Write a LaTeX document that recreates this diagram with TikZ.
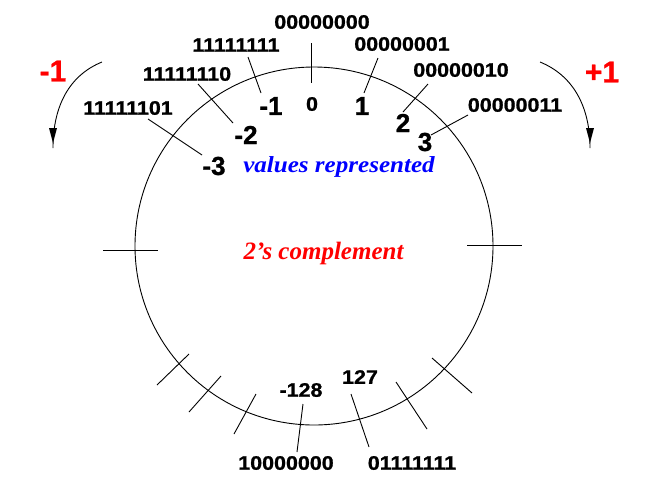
\documentclass[tikz,border=0pt]{standalone}
\usepackage{fontspec}
\newfontfamily\hbw[FakeStretch=1.1,FakeBold=1]{Liberation Sans}
\newfontfamily\hbn[FakeBold=1]{Liberation Sans}
\newfontfamily\tmw[FakeStretch=1.09]{Liberation Serif}
\newfontfamily\tmn{Liberation Serif}
\begin{document}
\begin{tikzpicture}[x=1pt,y=-1pt,
  bin/.style={inner sep=0pt,font=\hbw\bfseries\fontsize{19.5}{19.5}\selectfont},
  big/.style={inner sep=0pt,font=\hbn\bfseries\fontsize{26}{26}\selectfont},
  redbig/.style={inner sep=0pt,text=red,font=\hbn\bfseries\fontsize{30}{30}\selectfont},
  ln/.style={line width=0.9pt},
  tip/.style={fill=black}]
\useasboundingbox (0,0) rectangle (654,491);
\fill[white] (0,0) rectangle (654,491);
% circle
\coordinate (O) at (314,246);
\draw[ln] (O) circle [radius=179];
% ticks
\draw[ln] (311,43) -- (311,83);
\draw[ln] (103,250) -- (158,250);
\draw[ln] (467,245) -- (522,245);
\draw[ln] (157,385) -- (189,354);
\draw[ln] (189,412) -- (221,376);
\draw[ln] (234,434) -- (256,394);
\draw[ln] (432,358) -- (472,393);
\draw[ln] (396,382) -- (427,429);
% binary labels
\node[bin] (b0)   at (322,22) {00000000};
\node[bin] (bm1)  at (236,45) {11111111};
\node[bin] (bp1)  at (402,44) {00000001};
\node[bin] (bm2)  at (187,74) {11111110};
\node[bin] (bp2)  at (461,70) {00000010};
\node[bin] (bm3)  at (128,108) {11111101};
\node[bin] (bp3)  at (515,105) {00000011};
\node[bin] (bmin) at (286,463) {10000000};
\node[bin] (bmax) at (412,463) {01111111};
% values
\node[bin] (v0)   at (312,104) {0};
\node[big] (vm1)  at (271,106) {-1};
\node[big] (vp1)  at (362,106) {1};
\node[big] (vm2)  at (246,135) {-2};
\node[big] (vp2)  at (403,123) {2};
\node[big] (vm3)  at (214,166) {-3};
\node[big] (vp3)  at (425,142) {3};
\node[bin] (vmin) at (301,390) {-128};
\node[bin] (vmax) at (360,377) {127};
% leader lines
\coordinate (a1) at (248,57);  \coordinate (c1) at (261,93);
\coordinate (a2) at (198,84);  \coordinate (c2) at (233,123);
\coordinate (a3) at (148,119); \coordinate (c3) at (202,155);
\coordinate (d1) at (378,58);  \coordinate (e1) at (364,93);
\coordinate (d2) at (428,84);  \coordinate (e2) at (403,112);
\coordinate (d3) at (468,115); \coordinate (e3) at (431,135);
\coordinate (f1) at (303,404); \coordinate (g1) at (297,452);
\coordinate (f2) at (351,394); \coordinate (g2) at (369,447);
\draw[ln] (a1) -- (c1);
\draw[ln] (a2) -- (c2);
\draw[ln] (a3) -- (c3);
\draw[ln] (d1) -- (e1);
\draw[ln] (d2) -- (e2);
\draw[ln] (d3) -- (e3);
\draw[ln] (f1) -- (g1);
\draw[ln] (f2) -- (g2);
% titles
\node[inner sep=0pt,anchor=base,text=blue,font=\tmw\bfseries\itshape\fontsize{23}{23}\selectfont] (vr) at (339,172) {values represented};
\node[inner sep=0pt,anchor=base,text=red,font=\tmn\bfseries\itshape\fontsize{25}{25}\selectfont] (tc) at (323.5,259) {2’s complement};
% direction arrows
\node[redbig] (minus) at (53,71) {-1};
\node[redbig] (plus) at (602,72) {+1};
\coordinate (ls) at (102,62); \coordinate (le) at (53,148);
\coordinate (rs) at (540,62); \coordinate (re) at (590,148);
\draw[ln] (ls) .. controls (70,75) and (53,105) .. (le);
\fill[tip] (49,128) -- (57,128) -- (53,143) -- cycle;
\draw[ln] (rs) .. controls (572,75) and (590,105) .. (re);
\fill[tip] (586,128) -- (594,128) -- (590,143) -- cycle;
\end{tikzpicture}
\end{document}
